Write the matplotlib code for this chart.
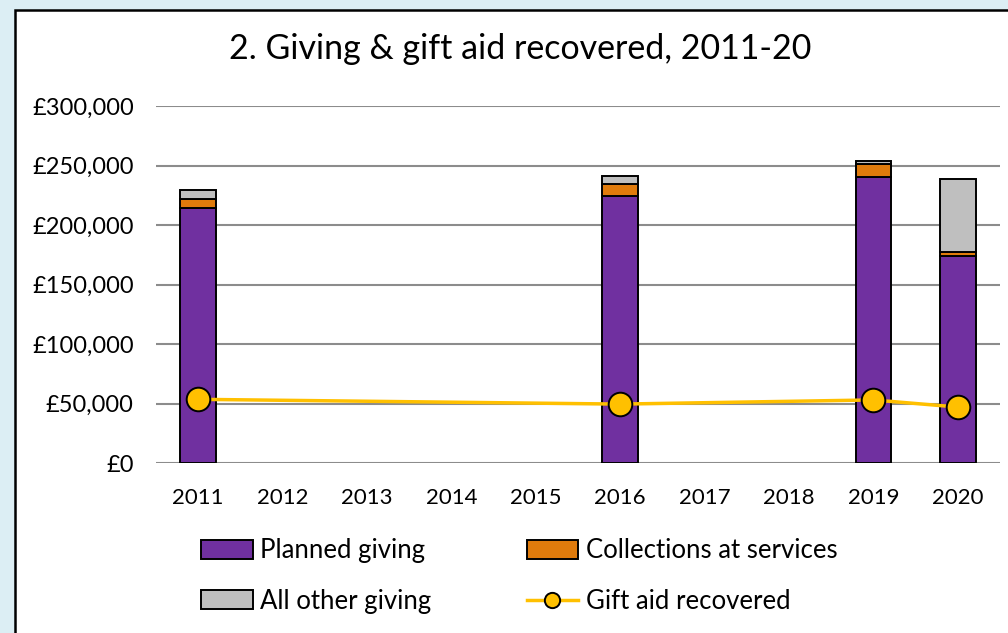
import matplotlib
matplotlib.use("Agg")
import matplotlib.pyplot as plt
from matplotlib.patches import Rectangle
from matplotlib.ticker import FuncFormatter
import numpy as np

years = ["2011", "2012", "2013", "2014", "2015", "2016", "2017", "2018", "2019", "2020"]
data_years = ["2011", "2016", "2019", "2020"]
planned_giving = [214000, 224000, 240000, 174000]
collections = [8000, 10500, 11000, 3500]
other_giving = [7000, 6500, 3000, 61000]
gift_aid = [53500, 49500, 53000, 47000]

PURPLE = "#7030A0"
ORANGE = "#E07B0C"
GREY = "#BFBFBF"
YELLOW = "#FFC000"

plt.rcParams["font.family"] = ["Lato", "DejaVu Sans"]

fig = plt.figure(figsize=(10.08, 6.33), dpi=100)
fig.patch.set_facecolor("#DCEEF4")
fig.patches.append(Rectangle((15 / 1008, -0.1), 1.2, 1 - 10 / 633 + 0.1,
                             transform=fig.transFigure, facecolor="white",
                             edgecolor="black", linewidth=1.8, zorder=-1))

ax = fig.add_axes([156 / 1008, 1 - 463 / 633, (1000 - 156) / 1008, (463 - 106) / 633])
ax.set_facecolor("none")
ax.set_zorder(1)

pos = np.array([years.index(y) for y in data_years])
w = 0.42
bot2 = np.array(planned_giving)
bot3 = bot2 + np.array(collections)
b1 = ax.bar(pos, planned_giving, w, color=PURPLE, edgecolor="black", linewidth=1.4, zorder=3)
b2 = ax.bar(pos, collections, w, bottom=bot2, color=ORANGE, edgecolor="black", linewidth=1.4,
            zorder=3)
b3 = ax.bar(pos, other_giving, w, bottom=bot3, color=GREY, edgecolor="black", linewidth=1.4,
            zorder=3)
ln, = ax.plot(pos, gift_aid, color=YELLOW, linewidth=2.5, marker="o", markersize=17,
              markerfacecolor=YELLOW, markeredgecolor="black", markeredgewidth=1.4, zorder=4)

ax.set_xlim(-0.5, 9.5)
ax.set_ylim(0, 300000)
ax.set_yticks(range(0, 300001, 50000))
ax.yaxis.set_major_formatter(FuncFormatter(lambda v, p: "£{:,.0f}".format(v)))
ax.set_xticks(range(len(years)))
ax.set_xticklabels(years)
ax.grid(axis="y", color="#8C8C8C", linewidth=1.5)
ax.set_axisbelow(True)
for s in ax.spines.values():
    s.set_visible(False)
ax.tick_params(length=0, colors="black")
ax.tick_params(axis="y", pad=16, labelsize=17)
ax.tick_params(axis="x", pad=18, labelsize=16)

fig.text(0.516, 1 - 49 / 633, "2. Giving & gift aid recovered, 2011-20", ha="center",
         va="center", fontsize=24.5)

# ncol=2 fills column by column
handles = [b1, b3, b2, ln]
labels = ["Planned giving", "All other giving", "Collections at services", "Gift aid recovered"]
leg = fig.legend(handles, labels, ncol=2,
                 loc="center left", bbox_to_anchor=(178 / 1008, 1 - 576 / 633),
                 frameon=False, fontsize=18.5, handlelength=2.0, handleheight=0.75,
                 handletextpad=0.3, columnspacing=3.7, labelspacing=1.0)
leg.legend_handles[3].set_markersize(11)

plt.savefig("out.png", dpi=100, facecolor=fig.get_facecolor())
